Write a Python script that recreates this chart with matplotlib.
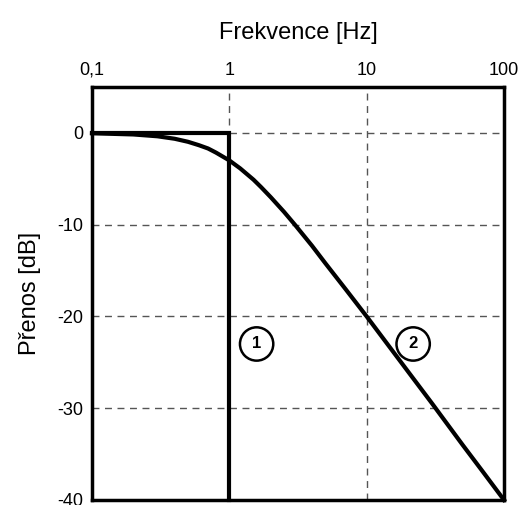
import matplotlib
matplotlib.use("Agg")
import matplotlib.pyplot as plt

# Ideal filter (1)
f_ideal = [0.1, 1, 1]
db_ideal = [0, 0, -40]

# First order filter (2)
f_real = [0.1, 0.2, 0.3, 0.4, 0.5, 0.6, 0.7, 0.8, 1, 1.2, 1.5, 1.7, 2, 2.5, 3,
          4, 5, 7, 10, 20, 30, 50, 70, 100]
db_real = [-0.04, -0.17, -0.37, -0.64, -0.97, -1.34, -1.7, -2.15, -3.0, -3.87,
           -5.1, -5.9, -7.0, -8.6, -10.0, -12.3, -14.2, -17.0, -20.0, -26.0,
           -29.5, -34.0, -36.9, -40.0]

x_ticks = [0.1, 1, 10, 100]
x_labels = ["0,1", "1", "10", "100"]
y_ticks = [0, -10, -20, -30, -40]

plt.rcParams['font.family'] = ['Liberation Sans', 'DejaVu Sans']
plt.rcParams['axes.unicode_minus'] = False

fig = plt.figure(figsize=(5.22, 5.05), dpi=100)
ax = fig.add_axes([92 / 522, 5 / 505, 412 / 522, 413 / 505])

ax.plot(f_ideal, db_ideal, color="black", lw=3, solid_joinstyle="miter", clip_on=False, zorder=3)
ax.plot(f_real, db_real, color="black", lw=3, clip_on=False, zorder=3)

ax.set_xscale("log")
ax.set_xlim(0.1, 100)
ax.set_ylim(-40, 5)
ax.set_xticks(x_ticks)
ax.set_xticklabels(x_labels)
ax.minorticks_off()
ax.set_yticks(y_ticks)
ax.xaxis.tick_top()
ax.xaxis.set_label_position("top")
ax.tick_params(length=0, labelsize=13, pad=6)
ax.set_xlabel("Frekvence [Hz]", fontsize=17, labelpad=16)
ax.set_ylabel("Přenos [dB]", fontsize=17, labelpad=12)

ax.grid(True, color="#555555", ls=(0, (5, 4)), lw=1)
for s in ax.spines.values():
    s.set_linewidth(2.5)

circ = dict(boxstyle="circle,pad=0.55", fc="white", ec="black", lw=1.8)
ax.text(1.58, -23, "1", ha="center", va="center", fontsize=12, fontweight="bold", bbox=circ)
ax.text(21.8, -23, "2", ha="center", va="center", fontsize=12, fontweight="bold", bbox=circ)

plt.savefig("out.png")
